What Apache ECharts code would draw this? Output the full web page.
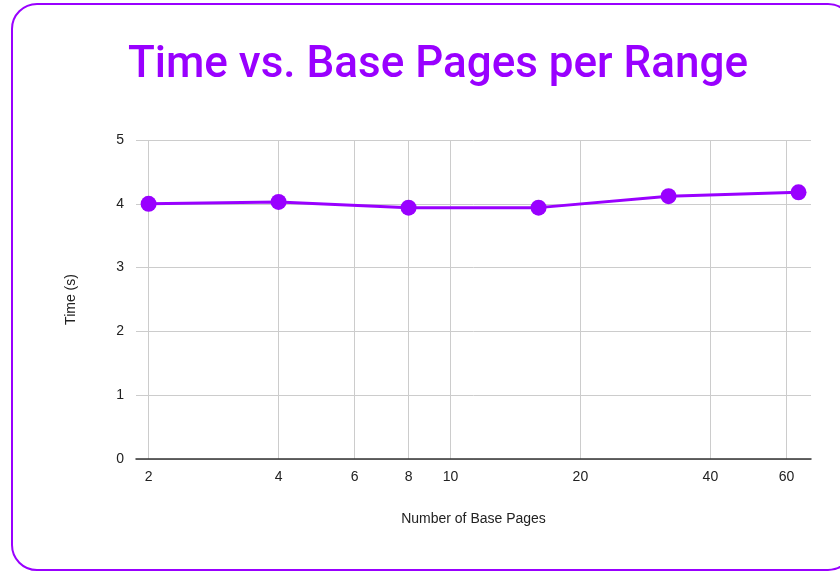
<!DOCTYPE html>
<html>
<head>
<meta charset="utf-8">
<script src="https://cdn.jsdelivr.net/npm/echarts@6/dist/echarts.min.js"></script>
<style>
  html, body { margin: 0; padding: 0; background: #fff; }
  #chart { width: 840px; height: 571px; }
</style>
</head>
<body>
<div id="chart"></div>
<script>
// Number of base pages per range (x) and measured time in seconds (y)
const basePages = [2, 4, 8, 16, 32, 64];
const timeSeconds = [4.00, 4.03, 3.94, 3.94, 4.12, 4.18];
const xTickValues = [2, 4, 6, 8, 10, 20, 40, 60];
const yTickValues = [0, 1, 2, 3, 4, 5];

const PURPLE = '#9900ff';
const LABEL_FONT = '"Liberation Sans", Arial, sans-serif';
const chart = echarts.init(document.getElementById('chart'), null, { renderer: 'canvas' });

chart.setOption({
  backgroundColor: '#ffffff',
  animation: false,
  title: {
    text: 'Time vs. Base Pages per Range',
    left: 433,
    top: 39,
    textAlign: 'center',
    textStyle: {
      color: PURPLE,
      fontFamily: 'Roboto',
      fontWeight: 500,
      fontSize: 44
    }
  },
  graphic: [{
    type: 'rect',
    shape: { x: 12, y: 4, width: 841, height: 566, r: 25 },
    style: { fill: 'none', stroke: PURPLE, lineWidth: 2 },
    silent: true,
    z: 10
  }],
  grid: { left: 136, right: 29, top: 140, bottom: 112 },
  xAxis: {
    type: 'log',
    logBase: 2,
    min: 1.87,
    max: 68.4,
    name: 'Number of Base Pages',
    nameLocation: 'middle',
    nameGap: 53,
    nameTextStyle: { color: '#222', fontFamily: LABEL_FONT, fontSize: 14 },
    axisLine: { show: true, lineStyle: { color: '#333', width: 1.5 } },
    axisTick: { show: false, customValues: xTickValues },
    axisLabel: {
      customValues: xTickValues,
      color: '#222',
      fontFamily: LABEL_FONT,
      fontSize: 14,
      margin: 11
    },
    splitLine: { show: true, lineStyle: { color: '#cccccc', width: 1 } }
  },
  yAxis: {
    type: 'value',
    min: 0,
    max: 5,
    interval: 1,
    name: 'Time (s)',
    nameLocation: 'middle',
    nameGap: 58,
    nameTextStyle: { color: '#222', fontFamily: LABEL_FONT, fontSize: 14 },
    axisLine: { show: false },
    axisTick: { show: false },
    axisLabel: {
      color: '#222',
      fontFamily: LABEL_FONT,
      fontSize: 14,
      margin: 12,
      formatter: (v) => (yTickValues.includes(v) ? String(v) : '')
    },
    splitLine: { show: true, lineStyle: { color: '#cccccc', width: 1 } }
  },
  series: [{
    type: 'line',
    data: basePages.map((x, i) => [x, timeSeconds[i]]),
    symbol: 'circle',
    symbolSize: 16,
    lineStyle: { color: PURPLE, width: 3 },
    itemStyle: { color: PURPLE }
  }]
});
</script>
</body>
</html>
